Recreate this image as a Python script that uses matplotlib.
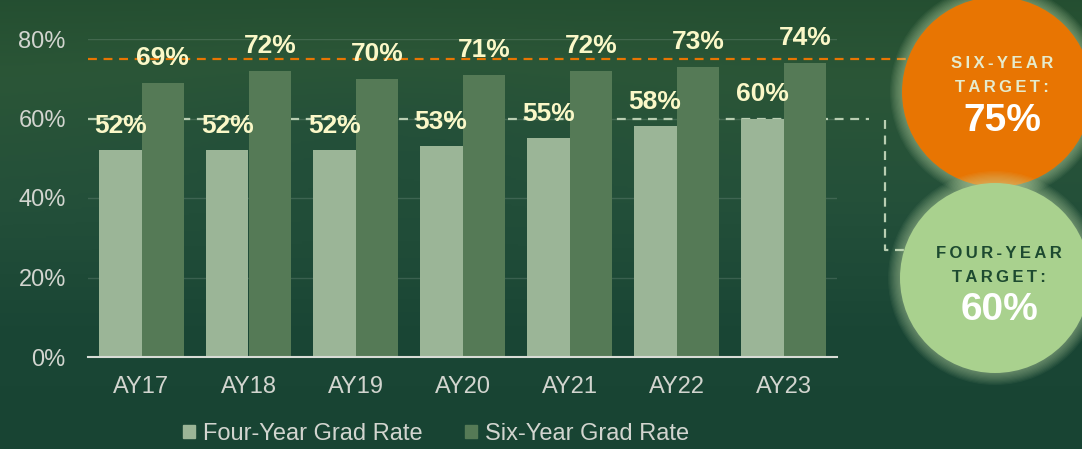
import numpy as np
import matplotlib.pyplot as plt
from matplotlib.patches import Patch, Circle
from matplotlib.colors import LinearSegmentedColormap

plt.rcParams['font.family'] = ['Liberation Sans', 'DejaVu Sans']

years = ['AY17', 'AY18', 'AY19', 'AY20', 'AY21', 'AY22', 'AY23']
four_year = [52, 52, 52, 53, 55, 58, 60]
six_year = [69, 72, 70, 71, 72, 73, 74]
six_target = 75
four_target = 60
yticks = [0, 20, 40, 60, 80]

C_FOUR = '#9bb597'
C_SIX = '#557a56'
C_LABEL = '#fbf8c8'
C_TICK = '#d2d5cf'
C_ORANGE = '#e87502'
C_GREEN = '#a9d18e'
C_DASH_G = '#b9ceb2'


def spaced(s):
    return '\u2009'.join(s)


def main():
    W, H = 1082, 449
    fig = plt.figure(figsize=(W / 100, H / 100), dpi=100)

    # background gradient
    bg = fig.add_axes([0, 0, 1, 1], zorder=-10)
    bg.axis('off')
    cmap = LinearSegmentedColormap.from_list(
        'bg', ['#214b2e', '#2b5637', '#24503a', '#1a4635', '#184433'])
    yy, xx = np.mgrid[0:1:200j, 0:1:400j]
    grad = yy + 0.15 * np.exp(-((xx - 0.35) ** 2 / 0.05 + (yy - 0.3) ** 2 / 0.03))
    bg.imshow(1 - grad, cmap=cmap.reversed(), aspect='auto', extent=[0, 1, 0, 1],
              vmin=0, vmax=1.1)

    ax = fig.add_axes([88 / W, 1 - 357 / H, (837 - 88) / W, (357 - 39) / H])
    ax.patch.set_alpha(0)
    x = np.arange(len(years))
    w = 0.4
    ax.bar(x - w / 2, four_year, w, color=C_FOUR, zorder=3, label='Four-Year Grad Rate')
    ax.bar(x + w / 2, six_year, w, color=C_SIX, zorder=3, label='Six-Year Grad Rate')

    for i in range(len(years)):
        ax.text(x[i] - w / 2, four_year[i] + 6.2, f'{four_year[i]}%', ha='center',
                va='center', color=C_LABEL, fontsize=19, fontweight='bold', zorder=5,
                clip_on=False)
        ax.text(x[i] + w / 2, six_year[i] + 6.2, f'{six_year[i]}%', ha='center',
                va='center', color=C_LABEL, fontsize=19, fontweight='bold', zorder=5,
                clip_on=False)

    ax.set_xlim(-0.5, len(years) - 0.5)
    ax.set_ylim(0, 80)
    ax.set_yticks(yticks)
    ax.set_yticklabels([f'{t}%' for t in yticks])
    ax.set_xticks(x)
    ax.set_xticklabels(years)
    ax.tick_params(axis='both', length=0, labelsize=17, colors=C_TICK)
    ax.tick_params(axis='y', pad=16)
    ax.tick_params(axis='x', pad=14)
    for s in ['top', 'right', 'left']:
        ax.spines[s].set_visible(False)
    ax.spines['bottom'].set_color('#d8dcd6')
    ax.spines['bottom'].set_linewidth(1.5)
    ax.spines['bottom'].set_zorder(4)
    for t in yticks[1:]:
        ax.axhline(t, color='#ffffff', alpha=0.13, lw=1, zorder=1)

    # target lines
    ax.plot([-0.5, 7.15], [six_target, six_target], color=C_ORANGE, lw=1.6,
            ls=(0, (4, 3)), zorder=2, clip_on=False)
    ax.plot([-0.5, 6.8], [four_target, four_target], color=C_DASH_G, lw=1.6,
            ls=(0, (4, 3)), zorder=2, clip_on=False)
    ax.plot([6.95, 6.95, 7.4], [four_target - 0.5, 27, 27], color=C_DASH_G, lw=1.6,
            ls=(0, (4, 3)), zorder=2, clip_on=False)

    handles = [Patch(color=C_FOUR, label='Four-Year Grad Rate'),
               Patch(color=C_SIX, label='Six-Year Grad Rate')]
    fig.legend(handles=handles, loc='center', bbox_to_anchor=(436 / W, 1 - 434 / H),
               ncol=2, frameon=False, fontsize=17, labelcolor=C_TICK,
               handlelength=0.5, handleheight=0.5, handletextpad=0.35,
               columnspacing=1.8)

    # target circles
    ov = fig.add_axes([0, 0, 1, 1], zorder=10)
    ov.set_xlim(0, W)
    ov.set_ylim(H, 0)
    ov.axis('off')
    ov.patch.set_alpha(0)
    r = 95
    for cx, cy, col in [(997, 92, C_ORANGE), (995, 278, C_GREEN)]:
        for k in range(10, 0, -1):
            ov.add_patch(Circle((cx, cy), r + k * 1.2, color='#cfe8b4', alpha=0.05, lw=0))
        ov.add_patch(Circle((cx, cy), r, color=col, lw=0))

    ov.text(1002, 63, spaced('SIX-YEAR'), ha='center', va='center', fontsize=12,
            fontweight='bold', color='#e6ebcc')
    ov.text(1002, 88, spaced('TARGET:'), ha='center', va='center', fontsize=12,
            fontweight='bold', color='#e6ebcc')
    ov.text(1002, 121, f'{six_target}%', ha='center', va='center', fontsize=28,
            fontweight='bold', color='white')
    ov.text(999, 253, spaced('FOUR-YEAR'), ha='center', va='center', fontsize=12,
            fontweight='bold', color='#1d4a30')
    ov.text(999, 277, spaced('TARGET:'), ha='center', va='center', fontsize=12,
            fontweight='bold', color='#1d4a30')
    ov.text(999, 310, f'{four_target}%', ha='center', va='center', fontsize=28,
            fontweight='bold', color='white')

    fig.savefig('out.png', dpi=100)


if __name__ == "__main__":
    main()
